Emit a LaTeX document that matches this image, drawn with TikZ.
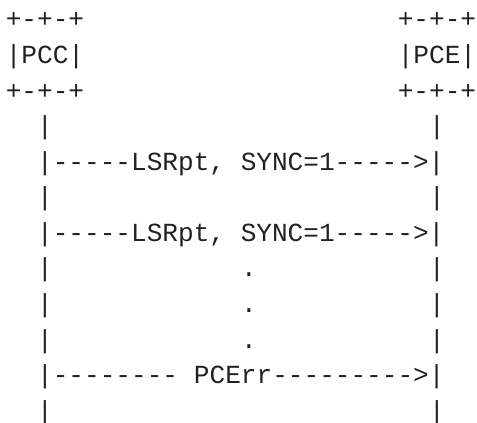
\documentclass[tikz,border=0pt]{standalone}
\usepackage{fontspec}
\setmonofont{Liberation Mono}
\begin{document}
\begin{tikzpicture}[x=15.68pt,y=-35.56pt,
  ascii/.style={inner sep=0pt,outer sep=0pt,anchor=base west,text=black!87,
    font=\ttfamily\fontsize{26.1}{30}\selectfont}]
\useasboundingbox (0,0) rectangle (30.42,11.867);
\begin{scope}[shift={(0.37,0.787)}]
  % PCC box
  \node[ascii] (pccT) at (0,0) {+-+-+};
  \node[ascii] (pcc)  at (0,1) {|PCC|};
  \node[ascii] (pccB) at (0,2) {+-+-+};
  % PCE box
  \node[ascii] (pceT) at (25,0) {+-+-+};
  \node[ascii] (pce)  at (25,1) {|PCE|};
  \node[ascii] (pceB) at (25,2) {+-+-+};
  % lifelines
  \foreach \r in {3,5,7,8,9,11} {
    \node[ascii] (l\r) at (2,\r) {|};
    \node[ascii] (r\r) at (27,\r) {|};
  }
  % messages
  \node[ascii] (m1) at (2,4) {|-----LSRpt, SYNC=1----->|};
  \node[ascii] (m2) at (2,6) {|-----LSRpt, SYNC=1----->|};
  \node[ascii] (d1) at (15,7) {.};
  \node[ascii] (d2) at (15,8) {.};
  \node[ascii] (d3) at (15,9) {.};
  \node[ascii] (m3a) at (2,10) {|--------};
  \node[ascii] (m3b) at (12,10) {PCErr--------->|};
\end{scope}
\end{tikzpicture}
\end{document}
